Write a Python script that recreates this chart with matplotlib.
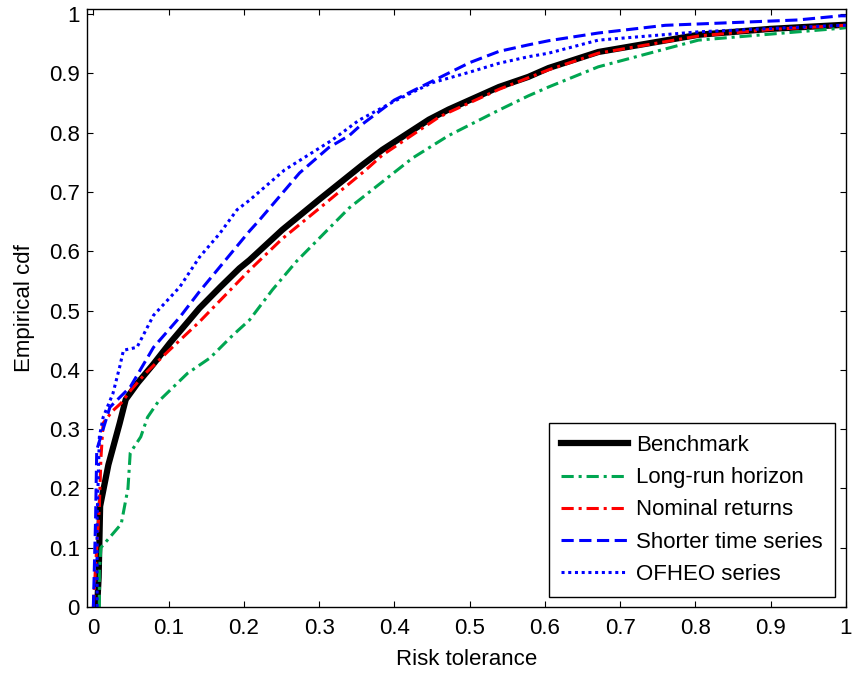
import matplotlib
matplotlib.use("Agg")
import matplotlib.pyplot as plt

# values (risk tolerance, empirical cdf)
bench_x = [0.005, 0.007, 0.009, 0.02, 0.035, 0.043, 0.059, 0.08, 0.1016, 0.141, 0.169, 0.194,
           0.2075, 0.251, 0.3, 0.357, 0.384, 0.446, 0.472, 0.539, 0.578, 0.605, 0.671, 0.804, 0.9, 1.0]
bench_y = [0.0, 0.05, 0.17, 0.24, 0.31, 0.35, 0.378, 0.41, 0.445, 0.504, 0.54, 0.571,
           0.585, 0.636, 0.687, 0.745, 0.771, 0.822, 0.839, 0.877, 0.894, 0.909, 0.936, 0.965, 0.975, 0.982]

longrun_x = [0.008, 0.008, 0.010, 0.037, 0.046, 0.049, 0.063, 0.072, 0.086, 0.125, 0.155,
             0.185, 0.2075, 0.238, 0.27, 0.34, 0.362, 0.424, 0.472, 0.539, 0.578, 0.605,
             0.671, 0.804, 0.993, 1.0]
longrun_y = [0.0, 0.06, 0.10, 0.14, 0.20, 0.26, 0.287, 0.32, 0.346, 0.394, 0.42,
             0.458, 0.484, 0.535, 0.583, 0.673, 0.695, 0.757, 0.795, 0.838, 0.862, 0.877,
             0.911, 0.956, 0.976, 0.977]

nominal_x = [0.0, 0.003, 0.008, 0.01, 0.013, 0.025, 0.037, 0.05, 0.07, 0.1, 0.141,
             0.2075, 0.251, 0.3, 0.362, 0.384, 0.459, 0.472, 0.539, 0.605, 0.671, 0.804, 0.9, 1.0]
nominal_y = [0.0, 0.07, 0.17, 0.25, 0.31, 0.33, 0.344, 0.366, 0.395, 0.432, 0.481,
             0.568, 0.621, 0.672, 0.737, 0.762, 0.826, 0.834, 0.873, 0.906, 0.934, 0.963, 0.974, 0.981]

shorter_x = [0.0, 0.003, 0.0045, 0.022, 0.049, 0.08, 0.115, 0.141, 0.2075, 0.221,
             0.274, 0.313, 0.34, 0.353, 0.4, 0.446, 0.5, 0.539, 0.578, 0.605, 0.671,
             0.76, 0.936, 0.993, 1.0]
shorter_y = [0.0, 0.15, 0.265, 0.337, 0.371, 0.438, 0.489, 0.532, 0.634, 0.653,
             0.732, 0.775, 0.795, 0.81, 0.855, 0.884, 0.918, 0.937, 0.948, 0.955, 0.968,
             0.981, 0.99, 0.997, 0.997]

ofheo_x = [0.005, 0.005, 0.008, 0.013, 0.026, 0.035, 0.04, 0.058, 0.08, 0.115, 0.141,
           0.168, 0.191, 0.2075, 0.254, 0.318, 0.353, 0.4, 0.45, 0.5, 0.539, 0.578, 0.605,
           0.671, 0.804, 0.993, 1.0]
ofheo_y = [0.0, 0.15, 0.287, 0.32, 0.36, 0.405, 0.433, 0.438, 0.492, 0.54, 0.59,
           0.63, 0.67, 0.686, 0.737, 0.788, 0.821, 0.853, 0.884, 0.902, 0.917, 0.928, 0.934,
           0.956, 0.97, 0.981, 0.981]

labels = ["Benchmark", "Long-run horizon", "Nominal returns", "Shorter time series", "OFHEO series"]
x_ticks = [0, 0.1, 0.2, 0.3, 0.4, 0.5, 0.6, 0.7, 0.8, 0.9, 1]
x_ticklabels = ["0", "0.1", "0.2", "0.3", "0.4", "0.5", "0.6", "0.7", "0.8", "0.9", "1"]
y_ticks = [0, 0.1, 0.2, 0.3, 0.4, 0.5, 0.6, 0.7, 0.8, 0.9, 1]
y_ticklabels = ["0", "0.1", "0.2", "0.3", "0.4", "0.5", "0.6", "0.7", "0.8", "0.9", "1"]

plt.rcParams["font.family"] = ["Liberation Sans", "DejaVu Sans"]
plt.rcParams["font.size"] = 16

fig = plt.figure(figsize=(8.52, 6.74), dpi=100)
ax = fig.add_axes([0.1018, 0.0994, 0.891, 0.8868])

ax.plot(bench_x, bench_y, color="black", lw=4.5, solid_joinstyle="round", label=labels[0])
ax.plot(longrun_x, longrun_y, color="#00a651", lw=2.2, dashes=(4, 1.6, 1, 1.6), label=labels[1])
ax.plot(nominal_x, nominal_y, color="#ff0000", lw=2.2, dashes=(4, 1.6, 1, 1.6), label=labels[2])
ax.plot(shorter_x, shorter_y, color="#0000ff", lw=2.2, dashes=(4, 1.8), label=labels[3])
ax.plot(ofheo_x, ofheo_y, color="#0000ff", lw=2.2, dashes=(1, 1.2), label=labels[4])

ax.set_xlim(-0.0088, 1.0)
ax.set_ylim(0, 1.008)
ax.set_xticks(x_ticks)
ax.set_xticklabels(x_ticklabels)
ax.set_yticks(y_ticks)
ax.set_yticklabels(y_ticklabels)
ax.tick_params(direction="in", length=4.5, width=0.8, top=True, right=True, pad=8)
ax.tick_params(axis="y", pad=5)
for sp in ax.spines.values():
    sp.set_linewidth(1.0)

ax.set_xlabel("Risk tolerance", labelpad=7)
ax.set_ylabel("Empirical cdf", labelpad=10)

leg = ax.legend(loc="lower right", bbox_to_anchor=(0.986, 0.017), borderaxespad=0,
                fancybox=False, edgecolor="black", framealpha=1, handlelength=3.0,
                handletextpad=0.4, labelspacing=0.5, borderpad=0.55)
leg.get_frame().set_linewidth(1.0)

fig.savefig("out.png", dpi=100)
